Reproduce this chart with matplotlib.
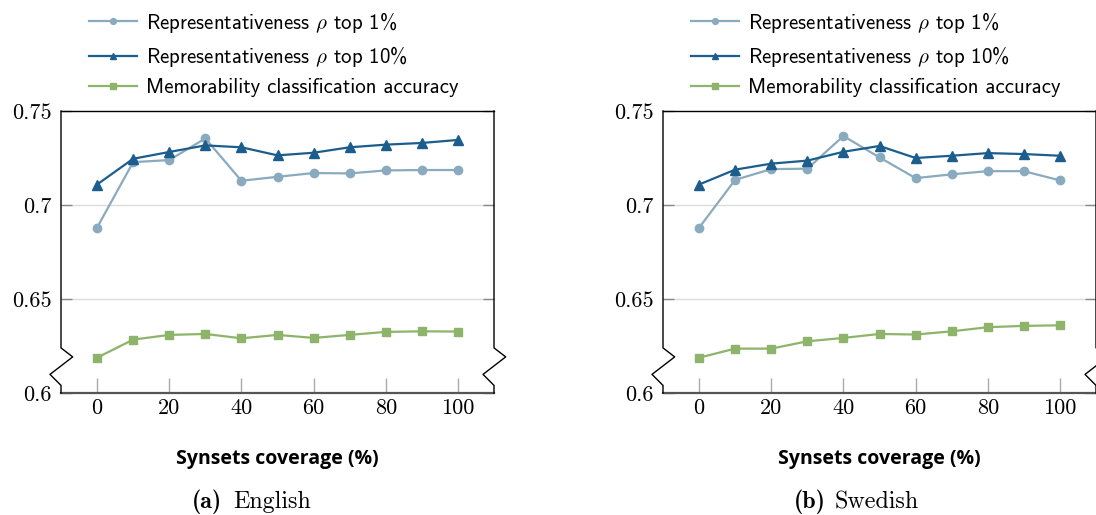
import matplotlib
matplotlib.use("Agg")
import matplotlib.pyplot as plt
from matplotlib.lines import Line2D

plt.rcParams['mathtext.fontset'] = 'cm'
plt.rcParams['axes.formatter.use_mathtext'] = True

coverage = [0, 10, 20, 30, 40, 50, 60, 70, 80, 90, 100]

en_top1 = [0.688, 0.7228, 0.7239, 0.7354, 0.7129, 0.7150, 0.7170, 0.7168, 0.7184, 0.7186, 0.7186]
en_top10 = [0.7109, 0.7246, 0.7282, 0.7317, 0.7307, 0.7264, 0.7278, 0.7307, 0.7321, 0.7330, 0.7346]
en_mem = [0.6188, 0.6284, 0.6309, 0.6314, 0.6291, 0.6309, 0.6293, 0.6309, 0.6325, 0.6328, 0.6327]

sv_top1 = [0.6879, 0.7134, 0.7191, 0.7193, 0.7367, 0.7253, 0.7143, 0.7163, 0.7180, 0.7180, 0.7131]
sv_top10 = [0.7109, 0.7188, 0.7220, 0.7236, 0.7283, 0.7314, 0.7250, 0.7262, 0.7276, 0.7271, 0.7262]
sv_mem = [0.6188, 0.6236, 0.6236, 0.6275, 0.6293, 0.6314, 0.6311, 0.6328, 0.6350, 0.6357, 0.6360]

series_labels = [r'Representativeness $\rho$ top 1%',
                 r'Representativeness $\rho$ top 10%',
                 'Memorability classification accuracy']
yticks = [0.6, 0.65, 0.7, 0.75]
ytick_labels = ['0.6', '0.65', '0.7', '0.75']
xticks = [0, 20, 40, 60, 80, 100]
xlabel = 'Synsets coverage (%)'
captions = [('(a)', 'English'), ('(b)', 'Swedish')]

C1 = '#8aaabf'
C10 = '#1b5e8d'
CM = '#8db46a'

W, H = 1096, 515
fig = plt.figure(figsize=(W / 100, H / 100), dpi=100)

def px_axes(left, top, right, bottom):
    return fig.add_axes([left / W, 1 - bottom / H, (right - left) / W, (bottom - top) / H])

panels = [
    (px_axes(61, 111, 494, 393), en_top1, en_top10, en_mem, 61),
    (px_axes(663, 111, 1096, 393), sv_top1, sv_top10, sv_mem, 663),
]

for i, (ax, t1, t10, mem, left_px) in enumerate(panels):
    ax.plot(coverage, t1, color=C1, lw=1.6, marker='o', ms=6, label=series_labels[0], zorder=3)
    ax.plot(coverage, t10, color=C10, lw=1.6, marker='^', ms=6.5, label=series_labels[1], zorder=4)
    ax.plot(coverage, mem, color=CM, lw=1.6, marker='s', ms=6, label=series_labels[2], zorder=3)
    ax.set_xlim(-10, 110)
    ax.set_ylim(0.6, 0.75)
    ax.set_xticks(xticks)
    ax.set_yticks(yticks)
    ax.set_yticklabels(ytick_labels, fontfamily='cmr10', fontsize=16)
    ax.set_xticklabels([str(x) for x in xticks], fontfamily='cmr10', fontsize=16)
    ax.tick_params(axis='y', direction='in', left=True, right=True, length=8,
                   color='#8a8a8a', width=1.0, pad=7)
    ax.tick_params(axis='x', direction='in', bottom=True, top=False, length=11,
                   color='#aaaaaa', width=1.0, pad=4)
    for yv in [0.65, 0.7]:
        ax.axhline(yv, color='#dcdcdc', lw=1.0, zorder=1)
    ax.spines['left'].set_visible(False)
    ax.spines['right'].set_visible(False)
    ax.spines['top'].set_color('black')
    ax.spines['top'].set_linewidth(1.0)
    ax.spines['bottom'].set_color('#555555')
    ax.spines['bottom'].set_linewidth(1.6)
    # broken-axis spines drawn manually
    for xs in (0.0, 1.0):
        xz = [xs, xs, xs + 0.027, xs - 0.0254, xs, xs]
        yz = [1.0, 0.160, 0.128, 0.066, 0.027, 0.0]
        ax.add_line(Line2D(xz, yz, transform=ax.transAxes, color='black', lw=1.0,
                           clip_on=False, zorder=5))
    ax.set_xlabel(xlabel, fontfamily='Open Sans', fontweight='bold', fontsize=14, labelpad=22)
    ax.legend(loc='lower left', bbox_to_anchor=(0.04, 1.011), frameon=False, numpoints=1,
              prop={'family': 'cmss10', 'size': 15}, handlelength=2.3, handletextpad=0.45,
              labelspacing=0.45, borderaxespad=0.2, borderpad=0.3, markerscale=0.7)
    cap_b, cap_t = captions[i]
    fig.text((left_px + 131) / W, 1 - 502 / H, cap_b, fontfamily='cmb10', fontsize=17.3,
             ha='left', va='center')
    fig.text((left_px + 172) / W, 1 - 502 / H, cap_t, fontfamily='cmr10', fontsize=17.3,
             ha='left', va='center')

fig.savefig('out.png', dpi=100)
